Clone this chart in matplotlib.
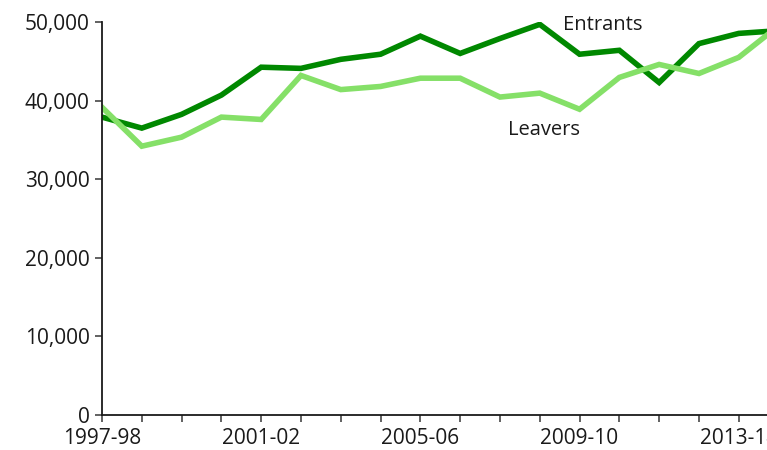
import numpy as np
import matplotlib
matplotlib.use('Agg')
import matplotlib.pyplot as plt
from matplotlib.ticker import FuncFormatter

# data
years = ['1997-98', '1998-99', '1999-00', '2000-01', '2001-02', '2002-03',
         '2003-04', '2004-05', '2005-06', '2006-07', '2007-08', '2008-09',
         '2009-10', '2010-11', '2011-12', '2012-13', '2013-14', '2014-15']
entrants = [37900, 36500, 38250, 40700, 44250, 44100, 45250, 45900, 48200,
            46000, 47900, 49700, 45900, 46400, 42300, 47250, 48550, 48900]
leavers = [39150, 34200, 35350, 37900, 37600, 43200, 41400, 41800, 42850,
           42850, 40450, 40950, 38900, 42950, 44600, 43450, 45500, 49500]
shown_labels = ['1997-98', '2001-02', '2005-06', '2009-10', '2013-14']

plt.rcParams['font.family'] = ['Open Sans', 'DejaVu Sans']

fig = plt.figure(figsize=(7.67, 4.5), dpi=100)
ax = fig.add_axes([102/767, 1 - 415/450, 1 - 102/767, (415 - 22)/450])

x = np.arange(len(years))
ax.plot(x, entrants, color='#008800', lw=4, solid_joinstyle='miter')
ax.plot(x, leavers, color='#85e068', lw=4, solid_joinstyle='miter')

ax.set_yticks(np.arange(0, 50001, 10000))
ax.yaxis.set_major_formatter(FuncFormatter(lambda v, p: '{:,.0f}'.format(v)))
ax.set_xticks(x)
ax.set_xticklabels([y if y in shown_labels else '' for y in years])
# axis runs off the right edge of the picture (last year is cut)
ax.set_xlim(0, 16.71)
ax.set_ylim(0, 50000)

for s in ['top', 'right']:
    ax.spines[s].set_visible(False)
for s in ['left', 'bottom']:
    ax.spines[s].set_linewidth(1.3)
    ax.spines[s].set_color('#1a1a1a')

ax.tick_params(axis='both', direction='out', length=5, width=1.3,
               color='#555555', labelsize=15, labelcolor='#1a1a1a')
ax.tick_params(axis='x', pad=4)
ax.tick_params(axis='y', pad=4)

ax.text(11.58, 49600, 'Entrants', fontsize=14.5, color='#1a1a1a',
        ha='left', va='center')
ax.text(10.2, 36300, 'Leavers', fontsize=14.5, color='#1a1a1a',
        ha='left', va='center')

fig.savefig('out.png', dpi=100)
